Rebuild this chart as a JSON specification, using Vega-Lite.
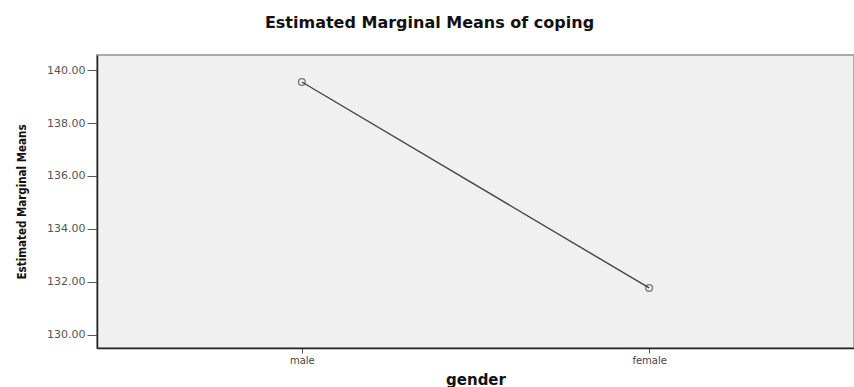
{
  "$schema": "https://vega.github.io/schema/vega-lite/v6.json",
  "width": 757,
  "height": 293,
  "autosize": "none",
  "padding": {"left": 97, "top": 55, "right": 0, "bottom": 39},
  "background": "white",
  "title": {
    "text": "Estimated Marginal Means of coping",
    "font": "DejaVu Sans",
    "fontSize": 16,
    "fontWeight": "bold",
    "color": "#111111",
    "anchor": "middle",
    "dx": -46,
    "offset": 24
  },
  "config": {
    "view": {"fill": "#f0f0f0", "stroke": "#aaaaaa", "strokeWidth": 2}
  },
  "data": {
    "values": [
      {"gender": "male", "mean": 139.55},
      {"gender": "female", "mean": 131.77}
    ]
  },
  "encoding": {
    "x": {
      "field": "gender",
      "type": "nominal",
      "sort": ["male", "female"],
      "scale": {"type": "point", "padding": 0.59},
      "axis": {
        "title": "gender",
        "titleFont": "DejaVu Sans",
        "titleFontSize": 15,
        "titleFontWeight": "bold",
        "titleColor": "#111111",
        "titlePadding": 7,
        "labelFont": "DejaVu Sans",
        "labelFontSize": 10,
        "labelColor": "#444444",
        "labelAngle": 0,
        "labelPadding": 2,
        "tickSize": 5,
        "tickColor": "#555555",
        "domainColor": "#222222",
        "domainWidth": 1.5,
        "grid": false
      }
    },
    "y": {
      "field": "mean",
      "type": "quantitative",
      "scale": {"domain": [129.5, 140.57], "nice": false, "zero": false},
      "axis": {
        "title": "Estimated Marginal Means",
        "titleFont": "DejaVu Sans Condensed",
        "titleFontSize": 11.5,
        "titleFontWeight": "bold",
        "titleColor": "#111111",
        "titlePadding": 19,
        "values": [130, 132, 134, 136, 138, 140],
        "format": ".2f",
        "labelFont": "DejaVu Sans",
        "labelFontSize": 11,
        "labelColor": "#555555",
        "labelPadding": 2,
        "tickSize": 10,
        "tickColor": "#555555",
        "domainColor": "#222222",
        "domainWidth": 1.5,
        "grid": false
      }
    }
  },
  "layer": [
    {"mark": {"type": "line", "color": "#444444", "strokeWidth": 1.4}},
    {"mark": {"type": "point", "shape": "circle", "filled": false, "size": 45, "stroke": "#444444", "strokeWidth": 1.3}}
  ]
}
